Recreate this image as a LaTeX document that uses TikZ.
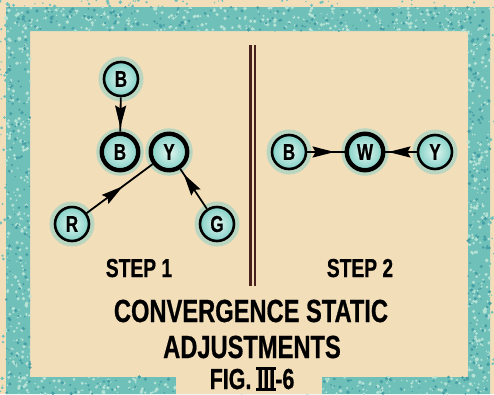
\documentclass[tikz,border=0pt]{standalone}
\usepackage{fontspec}
\newfontfamily\capfont{Liberation Sans}[FakeStretch=0.74,FakeBold=0.6]
\usetikzlibrary{arrows.meta,decorations.markings}
\definecolor{paper}{RGB}{243,222,186}
\definecolor{tealA}{RGB}{112,192,186}
\definecolor{tealL}{RGB}{180,226,212}
\definecolor{tealD}{RGB}{70,160,165}
\definecolor{bulb}{RGB}{130,208,198}
\definecolor{bulbC}{RGB}{226,247,240}
\definecolor{barcol}{RGB}{72,32,30}
\newcommand\romthree{\setbox0=\hbox{III}\rlap{\kern-1pt\rule[-1.6pt]{\dimexpr\wd0+2pt\relax}{2.2pt}}\rlap{\kern-1pt\rule[\dimexpr\ht0-0.6pt\relax]{\dimexpr\wd0+2pt\relax}{2.2pt}}\box0}
\newcommand\specks[6]{%
  \foreach \k in {1,...,#5}{%
    \pgfmathsetmacro\px{#1+rnd*(#2-#1)}%
    \pgfmathsetmacro\py{#3+rnd*(#4-#3)}%
    \pgfmathsetmacro\pr{0.6+rnd*1.4}%
    \fill[#6] (\px,\py) circle (\pr pt);
  }}
\tikzset{
  gun/.style={circle, draw=black, line width=2.6pt, inner sep=0pt, minimum size=34pt,
    inner color=bulbC, outer color=bulb,
    preaction={draw=bulb, line width=11pt, draw opacity=0.5},
    font=\capfont\bfseries\fontsize{23}{23}\selectfont},
  gunthick/.style={gun, line width=4.4pt, minimum size=36.5pt},
  conn/.style={line width=1.8pt, draw=black},
  midarrow/.style={conn, postaction={decorate},
    decoration={markings, mark=at position #1 with {\arrow{Stealth[length=22pt,width=11pt,inset=3pt]}}}},
  caption/.style={font=\capfont\bfseries\fontsize{32}{32}\selectfont, anchor=base, inner sep=0pt},
  steplabel/.style={font=\capfont\bfseries\fontsize{26}{26}\selectfont, anchor=base, inner sep=0pt},
  divbar/.style={line width=2.2pt, draw=barcol},
}
\begin{document}
\begin{tikzpicture}[x=1pt,y=-1pt]
  \useasboundingbox (0,0) rectangle (494,394);
  % paper and textured frame
  \fill[paper] (0,0) rectangle (494,394);
  \fill[tealA, even odd rule] (6,7) rectangle (490,394) (30,31) rectangle (468,377);
  \pgfmathsetseed{17}
  \specks{6}{490}{7}{31}{300}{tealL}
  \specks{6}{30}{31}{394}{220}{tealL}
  \specks{468}{490}{31}{394}{220}{tealL}
  \specks{30}{468}{377}{394}{190}{tealL}
  \specks{6}{490}{7}{31}{160}{tealD}
  \specks{6}{30}{31}{394}{120}{tealD}
  \specks{468}{490}{31}{394}{120}{tealD}
  \specks{30}{468}{377}{394}{100}{tealD}
  \specks{0}{494}{0}{7}{50}{tealA}
  \specks{0}{6}{0}{394}{30}{tealA}
  \specks{490}{494}{0}{394}{15}{tealA}
  \fill[paper] (176,369) rectangle (322,394);
  % divider
  \coordinate (d1t) at (250.5,45);
  \coordinate (d1b) at (250.5,286);
  \coordinate (d2t) at (255,45);
  \coordinate (d2b) at (255,286);
  \draw[divbar] (d1t) -- (d1b);
  \draw[divbar] (d2t) -- (d2b);
  % step 1
  \node[gun] (tb) at (121,79) {B};
  \node[gunthick] (mb) at (120,152) {B};
  \node[gunthick] (my) at (169,152) {Y};
  \node[gun] (r) at (72,224) {R};
  \node[gun] (g) at (217,224) {G};
  \draw[midarrow=-4pt] (tb) -- (mb);
  \draw[midarrow=0.55] (r) -- (my);
  \draw[midarrow=-6pt] (g) -- (my);
  % step 2
  \node[gun] (b2) at (289,152) {B};
  \node[gunthick] (w2) at (365,152) {W};
  \node[gun] (y2) at (435,152) {Y};
  \draw[midarrow=-10pt] (b2) -- (w2);
  \draw[midarrow=-3pt] (y2) -- (w2);
  % labels
  \node[steplabel] (s1) at (139,277) {STEP 1};
  \node[steplabel] (s2) at (360,277) {STEP 2};
  \node[caption] (c1) at (251,322) {CONVERGENCE STATIC};
  \node[caption] (c2) at (252,358) {ADJUSTMENTS};
  \node[caption, font=\capfont\bfseries\fontsize{29}{29}\selectfont] (c3) at (252,389) {FIG. \romthree-6};
\end{tikzpicture}
\end{document}
